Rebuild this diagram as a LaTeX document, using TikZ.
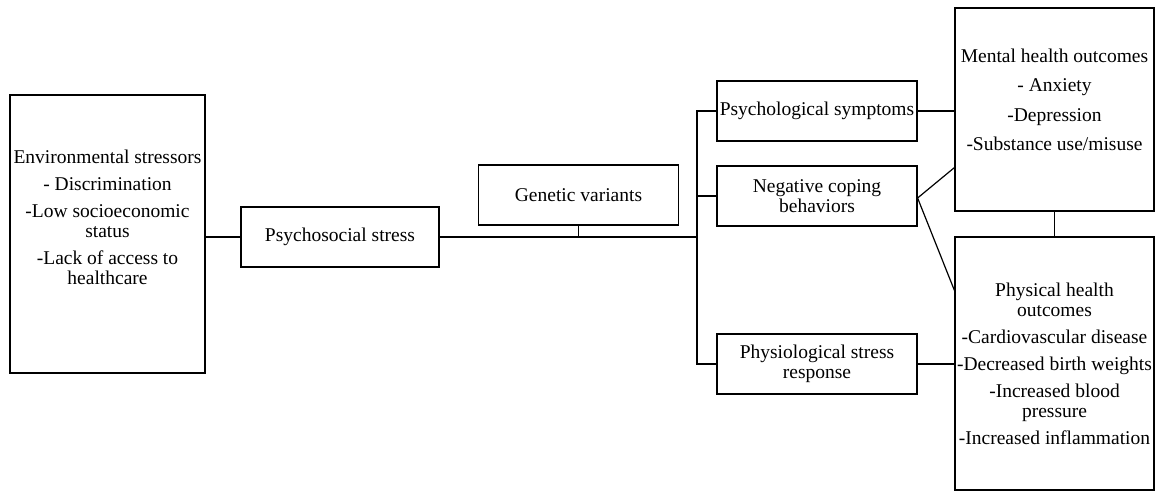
\documentclass[tikz,border=0pt]{standalone}
\usepackage{fontspec}
\setmainfont{Liberation Serif}
\usepackage{tikz}

\begin{document}
\begin{tikzpicture}[x=0.5pt,y=-0.5pt,
  box/.style={draw, line width=0.6pt, minimum width=100pt, minimum height=30pt, inner sep=0pt, align=center},
  tall/.style={draw, line width=0.6pt, inner sep=0pt},
  link/.style={line width=0.6pt},
  every node/.append style={font=\fontsize{9.75}{10}\selectfont}]

\useasboundingbox (0,0) rectangle (1163,491);

% Left column: stressors and stress
\node[tall, minimum width=97.5pt, minimum height=139pt] (env) at (107.5,234) {};
\node[align=center] (envtext) at (107.5,217) {Environmental stressors\\[3.5pt]
  - Discrimination\\[3.5pt] -Low socioeconomic\\ status\\[3.5pt] -Lack of access to\\ healthcare};
\node[box, minimum width=99pt] (psy) at (340,237) {Psychosocial stress};
\node[box] (gene) at (578.5,195) {Genetic variants};

% Middle column: pathways
\node[box] (sym) at (817,111) {Psychological symptoms};
\node[box] (cope) at (817,196) {Negative coping\\behaviors};
\node[box] (physio) at (817,364) {Physiological stress\\response};

% Right column: outcomes
\node[tall, minimum width=99.5pt, minimum height=101.5pt] (mental) at (1054.5,109.5) {};
\node[align=center] (mentaltext) at (1054.5,100) {Mental health outcomes\\[4.7pt]
  - Anxiety\\[4.7pt] -Depression\\[4.7pt] -Substance use/misuse};
\node[tall, minimum width=99.5pt, minimum height=126.5pt, align=center] (phys) at (1054.5,363.5)
  {Physical health\\ outcomes\\[3.5pt] -Cardiovascular disease\\[3.5pt] -Decreased birth weights\\[3.5pt]
  -Increased blood\\ pressure\\[3.5pt] -Increased inflammation};

% Connectors
\coordinate (trunk) at (697,237);
\draw[link] (psy.west) -- (psy.west -| env.east);
\draw[link] (psy.east) -- (trunk);
\draw[link] (gene.south) -- (gene.south |- trunk);
\draw[link] (sym.west) -| (trunk) |- (physio.west);
\draw[link] (cope.west) -- (cope.west -| trunk);
\draw[link] (sym.east) -- (sym.east -| mental.west);
\draw[link] ([yshift=-1pt]cope.east) -- ([yshift=22pt]mental.south west);
\draw[link] ([yshift=-1pt]cope.east) -- ([yshift=-27pt]phys.north west);
\draw[link] (physio.east) -- (physio.east -| phys.west);
\draw[link] (mental.south) -- (phys.north);

\end{tikzpicture}
\end{document}
